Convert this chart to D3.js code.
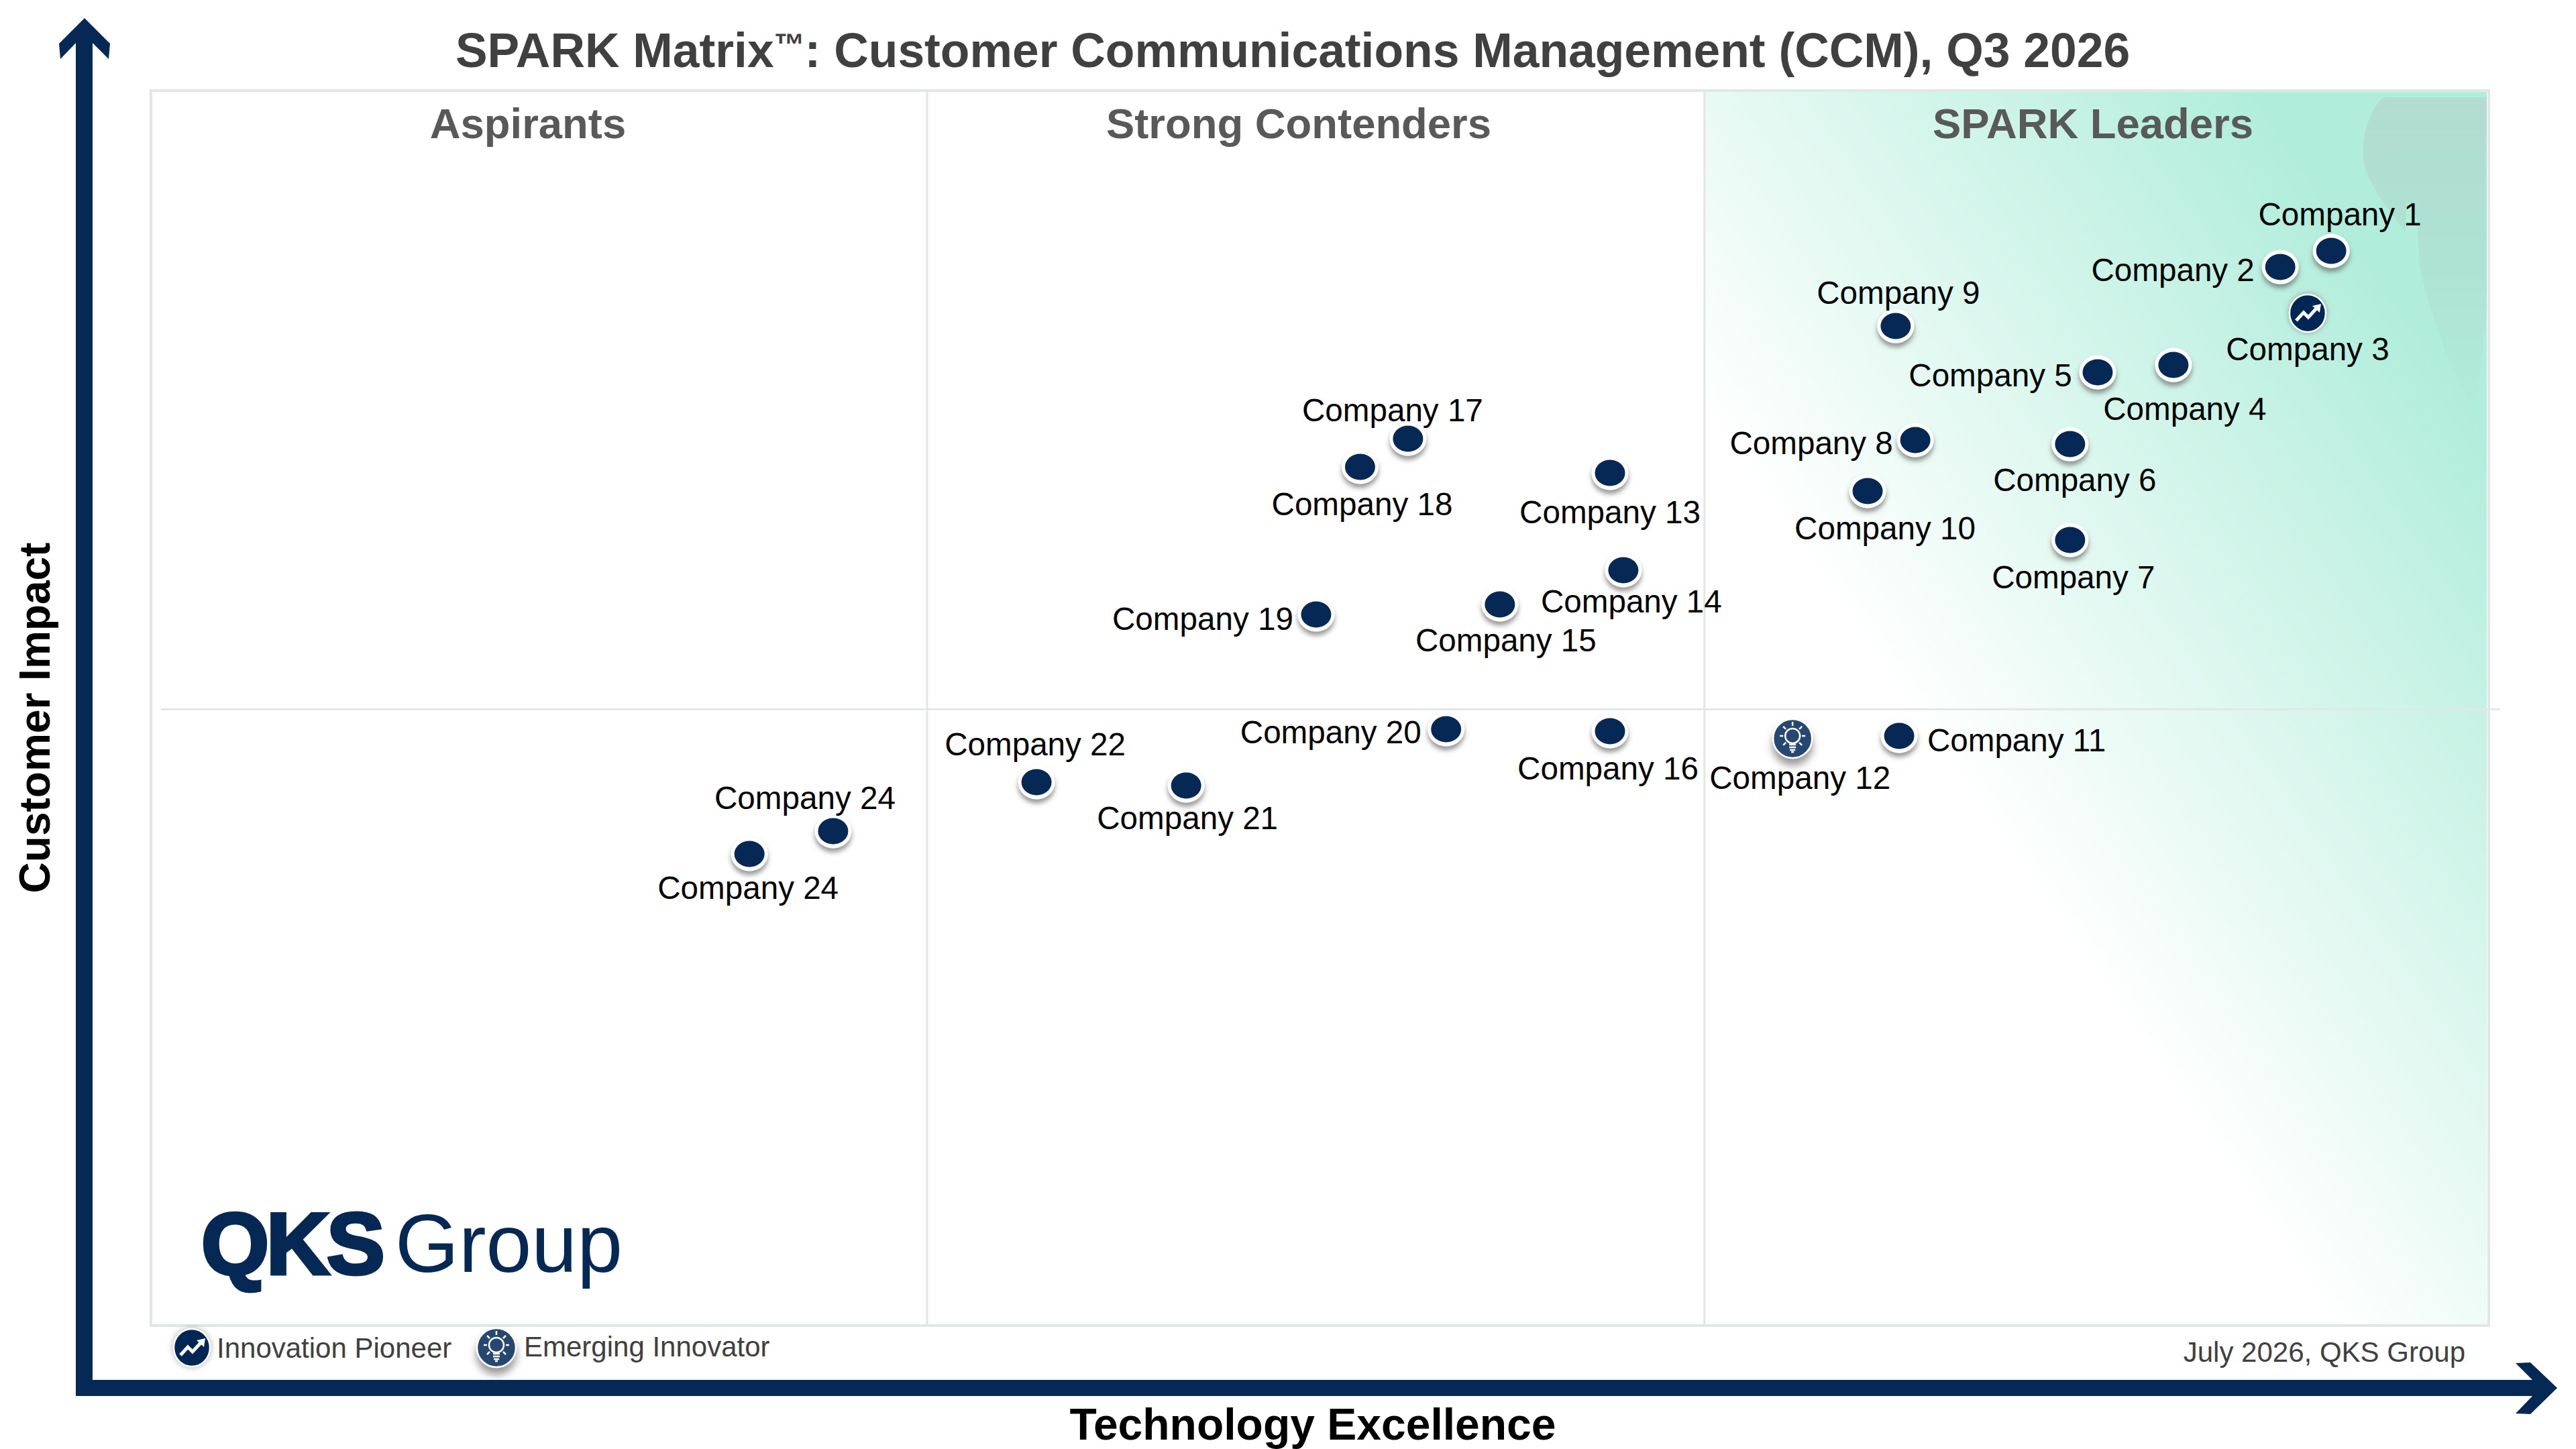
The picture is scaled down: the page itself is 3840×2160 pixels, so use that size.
<!DOCTYPE html>
<html>
<head>
<meta charset="utf-8">
<title>SPARK Matrix</title>
<script src="https://cdn.jsdelivr.net/npm/d3@7"></script>
<style>
    html, body { margin: 0; padding: 0; background: #fff; }
    svg { display: block; }
    text { font-family: "Liberation Sans", Arial, sans-serif; }
</style>
</head>
<body>
<div id="chart"></div>
<script>
const titleStart = "SPARK Matrix";
const titleMark = "\u2122";
const titleEnd = ": Customer Communications Management (CCM), Q3 2026";
const xAxisTitle = "Technology Excellence";
const yAxisTitle = "Customer Impact";
const quadrantNames = ["Aspirants", "Strong Contenders", "SPARK Leaders"];
const legendNames = ["Innovation Pioneer", "Emerging Innovator"];
const dateNote = "July 2026, QKS Group";

const companies = ["Company 1", "Company 2", "Company 3", "Company 4", "Company 5", "Company 6",
    "Company 7", "Company 8", "Company 9", "Company 10", "Company 11", "Company 12",
    "Company 13", "Company 14", "Company 15", "Company 16", "Company 17", "Company 18",
    "Company 19", "Company 20", "Company 21", "Company 22", "Company 24", "Company 24"];
const techScores = [93.26, 91.08, 92.25, 86.51, 83.27, 82.09, 82.09, 75.47, 74.63, 73.43, 74.78, 70.22,
    62.41, 62.98, 57.70, 62.41, 53.77, 51.72, 49.84, 55.40, 44.28, 37.88, 29.18, 25.60];
const impactScores = [87.02, 85.71, 81.97, 77.78, 77.19, 71.37, 63.61, 71.70, 80.93, 67.57, 47.75, 47.53,
    69.04, 61.16, 58.39, 48.13, 71.81, 69.53, 57.58, 48.29, 43.73, 44.00, 40.03, 38.19];
const markerTypes = ["plain", "plain", "pioneer", "plain", "plain", "plain", "plain", "plain", "plain",
    "plain", "plain", "emerging", "plain", "plain", "plain", "plain", "plain", "plain", "plain",
    "plain", "plain", "plain", "plain", "plain"];

// label offset from its dot, px
const labelDx = [13, -160, 0, 17, -160, 7, 5, -155, 4, 26, 175, 11, 0, 12, 9, -3, -23, 3, -169, -172, 2, -2, -42, -2];
const labelDy = [-54, 5, 54, 66, 5, 54, 56, 5, -49, 56, 7, 59, 59, 47, 54, 56, -42, 56, 7, 5, 49, -56, -49, 51];

const xDividers = [33.2, 66.45];
const yDivider = 49.9;

const width = 3840;
const height = 2160;
const navy = "#052854";

const x = d3.scaleLinear().domain([0, 100]).range([225, 3710]);
const y = d3.scaleLinear().domain([0, 100]).range([1976, 135]);

const svg = d3.select("#chart").append("svg")
    .attr("width", width)
    .attr("height", height);

const defs = svg.append("defs");

const grad = defs.append("linearGradient")
    .attr("id", "leaders")
    .attr("gradientUnits", "userSpaceOnUse")
    .attr("x1", 2803).attr("y1", 1000)
    .attr("x2", 3591).attr("y2", 457);
grad.append("stop").attr("offset", 0).attr("stop-color", "#ffffff");
grad.append("stop").attr("offset", 1).attr("stop-color", "#b0edda");

const patchGrad = defs.append("linearGradient")
    .attr("id", "patch")
    .attr("x1", 0).attr("y1", 0).attr("x2", 0).attr("y2", 1);
patchGrad.append("stop").attr("offset", 0).attr("stop-color", "#b2dcd0");
patchGrad.append("stop").attr("offset", 0.5).attr("stop-color", "#aee2d3");
patchGrad.append("stop").attr("offset", 1).attr("stop-color", "#b0ebd9");

const shadow = defs.append("filter").attr("id", "dotShadow")
    .attr("x", "-40%").attr("y", "-40%").attr("width", "180%").attr("height", "200%");
shadow.append("feDropShadow")
    .attr("dx", 0).attr("dy", 6).attr("stdDeviation", 3.5)
    .attr("flood-color", "#555").attr("flood-opacity", 0.6);

const halo = defs.append("filter").attr("id", "iconHalo")
    .attr("x", "-40%").attr("y", "-40%").attr("width", "180%").attr("height", "180%");
halo.append("feDropShadow")
    .attr("dx", 0).attr("dy", 0).attr("stdDeviation", 4)
    .attr("flood-color", "#666").attr("flood-opacity", 0.55);

const bulbShadow = defs.append("filter").attr("id", "bulbShadow")
    .attr("x", "-40%").attr("y", "-40%").attr("width", "180%").attr("height", "220%");
bulbShadow.append("feDropShadow")
    .attr("dx", 0).attr("dy", 10).attr("stdDeviation", 6)
    .attr("flood-color", "#555").attr("flood-opacity", 0.6);

// leaders quadrant background
svg.append("rect")
    .attr("x", x(xDividers[1])).attr("y", y(100))
    .attr("width", 3707 - x(xDividers[1])).attr("height", y(0) - y(100))
    .attr("fill", "url(#leaders)");

// stippled patch in the top right corner
svg.append("path")
    .attr("d", "M3553,145 C3530,165 3521,205 3523,235 C3525,270 3560,310 3585,346 L3587,300 "
        + "C3595,305 3602,318 3603,330 C3605,370 3606,395 3612,420 C3625,470 3655,560 3683,601 "
        + "C3695,590 3698,560 3698,535 C3702,510 3707,480 3707,452 L3707,145 Z")
    .attr("fill", "url(#patch)");

// frame and quadrant lines
svg.append("rect")
    .attr("x", x(0)).attr("y", y(100))
    .attr("width", x(100) - x(0)).attr("height", y(0) - y(100))
    .attr("fill", "none")
    .attr("stroke", "#e1e7e5")
    .attr("stroke-width", 4);

svg.selectAll("line.divider")
    .data(xDividers)
    .enter()
    .append("line")
    .attr("class", "divider")
    .attr("x1", d => x(d)).attr("x2", d => x(d))
    .attr("y1", y(100)).attr("y2", y(0))
    .attr("stroke", "#e3e6e6").attr("stroke-width", 3);

svg.append("line")
    .attr("x1", 240).attr("x2", 3727)
    .attr("y1", y(yDivider)).attr("y2", y(yDivider))
    .attr("stroke", "#e3e6e6").attr("stroke-width", 3);

// axis arrows
const arrowLine = d3.line();
svg.append("path")
    .attr("d", arrowLine([[113, 2081], [113, 64], [90, 88], [88, 65], [126, 27], [164, 65], [162, 88], [138, 64],
        [138, 2057], [3775, 2057], [3750, 2032], [3772, 2031], [3812, 2069], [3772, 2108], [3750, 2107], [3775, 2081]]) + "Z")
    .attr("fill", navy);

// titles
const title = svg.append("text")
    .attr("x", 1927).attr("y", 100)
    .attr("text-anchor", "middle")
    .attr("font-size", 71.4).attr("font-weight", "bold")
    .attr("fill", "#404040");
title.append("tspan").text(titleStart);
title.append("tspan").attr("font-size", 46).attr("dy", -18).text(titleMark);
title.append("tspan").attr("dy", 18).text(titleEnd);

const quadrantCenters = [787, 1936, 3120];
svg.selectAll("text.quadrant")
    .data(quadrantNames)
    .enter()
    .append("text")
    .attr("class", "quadrant")
    .attr("x", (d, i) => quadrantCenters[i])
    .attr("y", 206)
    .attr("text-anchor", "middle")
    .attr("font-size", 63.4).attr("font-weight", "bold")
    .attr("fill", "#595959")
    .text(d => d);

svg.append("text")
    .attr("x", 1957).attr("y", 2146)
    .attr("text-anchor", "middle")
    .attr("font-size", 66).attr("font-weight", "bold")
    .attr("fill", "#000")
    .text(xAxisTitle);

svg.append("text")
    .attr("transform", "translate(74,1070) rotate(-90)")
    .attr("text-anchor", "middle")
    .attr("font-size", 64).attr("font-weight", "bold")
    .attr("fill", "#000")
    .text(yAxisTitle);

// icons for the two special marker types
function drawPioneer(g) {
    g.append("ellipse")
        .attr("rx", 27).attr("ry", 28)
        .attr("fill", navy).attr("stroke", "#fff").attr("stroke-width", 2.5)
        .attr("filter", "url(#iconHalo)");
    g.append("path")
        .attr("d", "M-17,11 L-6,-1 L1,6 L13,-7")
        .attr("fill", "none").attr("stroke", "#fff").attr("stroke-width", 5);
    g.append("path")
        .attr("d", "M7,-11 L20,-14 L18,-1 Z")
        .attr("fill", "#fff");
}

function drawEmerging(g) {
    g.append("ellipse")
        .attr("rx", 29).attr("ry", 29)
        .attr("fill", "#25476f").attr("stroke", "#fff").attr("stroke-width", 2.5)
        .attr("filter", "url(#bulbShadow)");
    g.append("circle")
        .attr("cy", -4).attr("r", 11)
        .attr("fill", "none").attr("stroke", "#fff").attr("stroke-width", 2.5);
    g.append("path")
        .attr("d", "M0,-25 V-19 M-14,-18 L-10,-14 M14,-18 L10,-14 M-19,-4 H-14 M19,-4 H14 M-14,10 L-10,6 M14,10 L10,6")
        .attr("fill", "none").attr("stroke", "#fff").attr("stroke-width", 2.5);
    g.append("path")
        .attr("d", "M-5,9 H5 M-5,13 H5 M-4,17 H4 M-2,20 H2")
        .attr("fill", "none").attr("stroke", "#fff").attr("stroke-width", 2.5);
}

// company dots
const points = svg.selectAll("g.company")
    .data(companies)
    .enter()
    .append("g")
    .attr("class", "company")
    .attr("transform", (d, i) => `translate(${x(techScores[i])},${y(impactScores[i])})`);

points.each(function (d, i) {
    const g = d3.select(this);
    if (markerTypes[i] === "pioneer") {
        drawPioneer(g);
    } else if (markerTypes[i] === "emerging") {
        drawEmerging(g);
    } else {
        g.append("ellipse")
            .attr("rx", 27.5).attr("ry", 25.5)
            .attr("fill", "#fff")
            .attr("filter", "url(#dotShadow)");
        g.append("ellipse")
            .attr("rx", 22.5).attr("ry", 19.5)
            .attr("fill", navy);
    }
});

points.append("text")
    .attr("x", (d, i) => labelDx[i])
    .attr("y", (d, i) => labelDy[i] + 16)
    .attr("text-anchor", "middle")
    .attr("font-size", 47.6)
    .attr("fill", "#000")
    .text(d => d);

// legend
const legendIcons = [drawPioneer, drawEmerging];
const legendIconX = [286, 740];
const legendTextX = [323, 781];
const legendTextY = [2024, 2022];
legendNames.forEach((name, i) => {
    legendIcons[i](svg.append("g").attr("transform", `translate(${legendIconX[i]},2009)`));
    svg.append("text")
        .attr("x", legendTextX[i]).attr("y", legendTextY[i])
        .attr("font-size", 42)
        .attr("fill", "#404040")
        .text(name);
});

svg.append("text")
    .attr("x", 3675).attr("y", 2030)
    .attr("text-anchor", "end")
    .attr("font-size", 42)
    .attr("fill", "#404040")
    .text(dateNote);

// logo
svg.append("text")
    .attr("x", 300).attr("y", 1899)
    .attr("font-size", 130).attr("font-weight", "bold")
    .attr("letter-spacing", -4)
    .attr("fill", navy).attr("stroke", navy).attr("stroke-width", 5)
    .text("QKS");
svg.append("text")
    .attr("x", 589).attr("y", 1896)
    .attr("font-size", 122)
    .attr("fill", navy)
    .text("Group");
</script>
</body>
</html>
